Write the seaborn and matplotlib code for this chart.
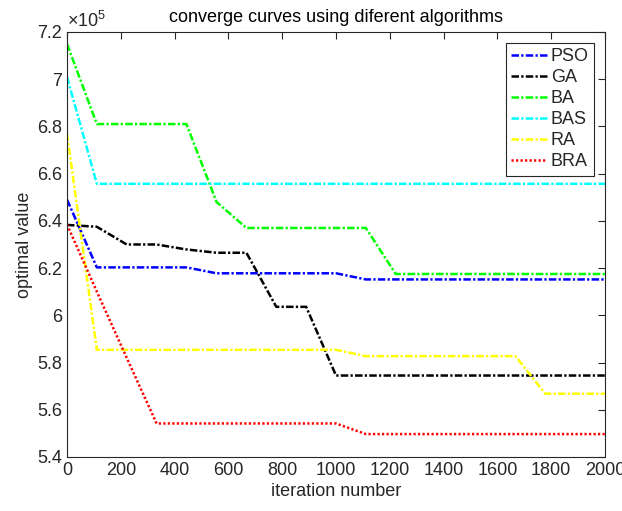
"""
Convergence curves of several optimisation algorithms
"""

import numpy as np
import pandas as pd
import matplotlib
matplotlib.use('Agg')
import matplotlib.pyplot as plt
from matplotlib.ticker import FuncFormatter, MultipleLocator
import seaborn as sns

# iteration numbers at which the curves were sampled
iterations = [0, 111, 222, 333, 444, 556, 667, 778, 889, 1000,
              1111, 1222, 1333, 1444, 1556, 1667, 1778, 1889, 2000]

# optimal values (x 1e5)
pso = [6.49, 6.203, 6.203, 6.203, 6.203, 6.178, 6.178, 6.178, 6.178, 6.178,
       6.152, 6.152, 6.152, 6.152, 6.152, 6.152, 6.152, 6.152, 6.152]
ga = [6.383, 6.375, 6.300, 6.300, 6.279, 6.265, 6.265, 6.036, 6.036, 5.745,
      5.745, 5.745, 5.745, 5.745, 5.745, 5.745, 5.745, 5.745, 5.745]
ba = [7.15, 6.81, 6.81, 6.81, 6.81, 6.48, 6.37, 6.37, 6.37, 6.37,
      6.37, 6.175, 6.175, 6.175, 6.175, 6.175, 6.175, 6.175, 6.175]
bas = [7.01, 6.557, 6.557, 6.557, 6.557, 6.557, 6.557, 6.557, 6.557, 6.557,
       6.557, 6.557, 6.557, 6.557, 6.557, 6.557, 6.557, 6.557, 6.557]
ra = [6.77, 5.854, 5.854, 5.854, 5.854, 5.854, 5.854, 5.854, 5.854, 5.854,
      5.827, 5.827, 5.827, 5.827, 5.827, 5.827, 5.668, 5.668, 5.668]
bra = [6.385, 6.10, 5.82, 5.542, 5.542, 5.542, 5.542, 5.542, 5.542, 5.542,
       5.497, 5.497, 5.497, 5.497, 5.497, 5.497, 5.497, 5.497, 5.497]

algorithms = ['PSO', 'GA', 'BA', 'BAS', 'RA', 'BRA']
series = [pso, ga, ba, bas, ra, bra]
colors = ['#0000FF', '#000000', '#00FF00', '#00FFFF', '#FFFF00', '#FF0000']
dash_dot = (3.0, 0.9, 0.9, 0.9)
dotted = (0.9, 0.9)
dashes = [dash_dot, dash_dot, dash_dot, dash_dot, dash_dot, dotted]

sns.set_style('white')
plt.rcParams['font.family'] = ['Liberation Sans', 'DejaVu Sans']
plt.rcParams['mathtext.fontset'] = 'custom'
plt.rcParams['mathtext.rm'] = 'Liberation Sans'
plt.rcParams['mathtext.it'] = 'Liberation Sans'

axis_color = '#262626'
fs = 13
lw = 1.8

fig = plt.figure(figsize=(6.22, 5.11), dpi=100)
ax = fig.add_axes([0.1077, 0.1057, 0.8650, 0.8317])

for name, values, color, dsh in zip(algorithms, series, colors, dashes):
    df = pd.DataFrame({'Iteration': iterations, 'Value': values})
    sns.lineplot(data=df, x='Iteration', y='Value', ax=ax, color=color,
                 linewidth=lw, label=name, dashes=False)
    ax.lines[-1].set_dashes(dsh)

ax.set_xlim(0, 2000)
ax.set_ylim(5.4, 7.2)
ax.xaxis.set_major_locator(MultipleLocator(200))
ax.yaxis.set_major_locator(MultipleLocator(0.2))
ax.yaxis.set_major_formatter(FuncFormatter(lambda v, p: '%g' % round(v, 2)))

ax.tick_params(direction='in', length=5, width=0.8, colors=axis_color,
               labelsize=fs, top=True, right=True, labelcolor=axis_color)
for spine in ax.spines.values():
    spine.set_color(axis_color)
    spine.set_linewidth(0.8)

ax.set_xlabel('iteration number', fontsize=fs, color=axis_color, labelpad=3)
ax.set_ylabel('optimal value', fontsize=fs, color=axis_color, labelpad=3)
ax.set_title('converge curves using diferent algorithms', fontsize=fs,
             color='black', pad=7)
ax.text(0.0, 1.003, r'$\times10^{5}$', transform=ax.transAxes, fontsize=fs,
        ha='left', va='bottom', color=axis_color)

leg = ax.legend(loc='upper right', fontsize=fs, frameon=True, fancybox=False,
                framealpha=1, edgecolor=axis_color, borderaxespad=0.6,
                handlelength=2.0, handletextpad=0.2, labelspacing=0.22,
                borderpad=0.3)
leg.get_frame().set_linewidth(0.8)
for line in leg.get_lines():
    line.set_linewidth(lw)

plt.savefig('out.png', dpi=100)
